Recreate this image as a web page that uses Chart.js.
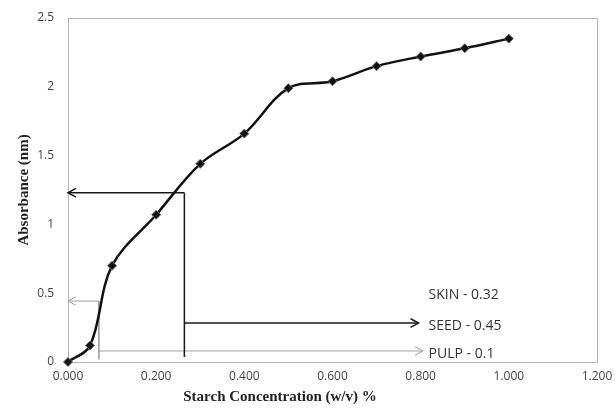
<!DOCTYPE html>
<html>
<head>
<meta charset="utf-8">
<script src="https://cdn.jsdelivr.net/npm/chart.js@4.4.1/dist/chart.umd.min.js"></script>
<style>
  html, body { margin: 0; padding: 0; background: #fff; }
</style>
</head>
<body>
<canvas id="absorbChart" width="615" height="412"></canvas>
<script>
// curva padrão do amido
const concentration = [0, 0.05, 0.1, 0.2, 0.3, 0.4, 0.5, 0.6, 0.7, 0.8, 0.9, 1.0];
const absorbance = [0, 0.12, 0.70, 1.07, 1.44, 1.66, 1.99, 2.04, 2.15, 2.22, 2.28, 2.35];

// linhas de leitura: SEED, PULP
const guideConc = [0.264, 0.07];
const guideLevel = [1.23, 0.443];
const guideBottom = [0.036, 0.02];
const pointerLevel = [0.283, 0.08];
const pointerEnd = [0.795, 0.805];
const guideColors = ['#1a1a1a', '#a0a0a0'];
const guideWidths = [1.5, 1];

// textos das amostras
const noteLabels = ['SKIN - 0.32', 'SEED - 0.45', 'PULP - 0.1'];
const noteLevels = [0.487, 0.262, 0.058];
const noteConc = 0.818;

const xTicks = [0, 0.2, 0.4, 0.6, 0.8, 1.0, 1.2];
const yTicks = [0, 0.5, 1, 1.5, 2, 2.5];

const curve = concentration.map((c, i) => ({ x: c, y: absorbance[i] }));

const guideSets = [];
guideConc.forEach((c, i) => {
    const base = {
        type: 'line',
        borderColor: guideColors[i],
        borderWidth: guideWidths[i],
        pointRadius: 0,
        tension: 0,
        fill: false,
        clip: false
    };
    // seta para o eixo y
    guideSets.push(Object.assign({}, base, {
        data: [{ x: c, y: guideLevel[i] }, { x: 0, y: guideLevel[i] }],
        arrow: true
    }));
    // linha vertical até o eixo x
    guideSets.push(Object.assign({}, base, {
        data: [{ x: c, y: guideLevel[i] }, { x: c, y: guideBottom[i] }]
    }));
    // seta para o texto
    guideSets.push(Object.assign({}, base, {
        data: [{ x: c, y: pointerLevel[i] }, { x: pointerEnd[i], y: pointerLevel[i] }],
        arrow: true
    }));
});

// pontas de seta abertas
const arrowHeads = {
    id: 'arrowHeads',
    afterDatasetsDraw(chart) {
        const ctx = chart.ctx;
        chart.data.datasets.forEach((ds, i) => {
            if (!ds.arrow) return;
            const pts = chart.getDatasetMeta(i).data;
            const tip = pts[pts.length - 1];
            const prev = pts[pts.length - 2];
            const ang = Math.atan2(tip.y - prev.y, tip.x - prev.x);
            const len = 9, spread = 0.5;
            ctx.save();
            ctx.strokeStyle = ds.borderColor;
            ctx.lineWidth = ds.borderWidth;
            ctx.beginPath();
            ctx.moveTo(tip.x - len * Math.cos(ang - spread), tip.y - len * Math.sin(ang - spread));
            ctx.lineTo(tip.x, tip.y);
            ctx.lineTo(tip.x - len * Math.cos(ang + spread), tip.y - len * Math.sin(ang + spread));
            ctx.stroke();
            ctx.restore();
        });
    }
};

// textos, moldura e títulos dos eixos
const decorations = {
    id: 'decorations',
    beforeDatasetsDraw(chart) {
        const { ctx, chartArea: a } = chart;
        ctx.save();
        ctx.strokeStyle = '#b5b5b5';
        ctx.lineWidth = 1;
        ctx.beginPath();
        ctx.moveTo(a.left, a.top + 0.5);
        ctx.lineTo(a.right + 0.5, a.top + 0.5);
        ctx.lineTo(a.right + 0.5, a.bottom);
        ctx.stroke();
        ctx.restore();
    },
    afterDraw(chart) {
        const { ctx, chartArea: a, scales } = chart;
        ctx.save();
        ctx.fillStyle = '#333';
        ctx.font = '14px "Open Sans"';
        ctx.textBaseline = 'middle';
        ctx.textAlign = 'left';
        noteLabels.forEach((t, i) => {
            ctx.fillText(t, scales.x.getPixelForValue(noteConc), scales.y.getPixelForValue(noteLevels[i]));
        });

        ctx.fillStyle = '#222';
        ctx.font = 'bold 15px "Liberation Serif"';
        ctx.textAlign = 'center';
        ctx.fillText('Starch Concentration (w/v) %', a.left + 212, a.bottom + 35);
        ctx.translate(24, a.top + 172);
        ctx.rotate(-Math.PI / 2);
        ctx.fillText('Absorbance (nm)', 0, 0);
        ctx.restore();
    }
};

const ctx = document.getElementById('absorbChart').getContext('2d');
const absorbChart = new Chart(ctx, {
    type: 'line',
    data: {
        datasets: [{
            data: curve,
            borderColor: '#111',
            borderWidth: 2.5,
            tension: 0.35,
            fill: false,
            pointStyle: 'rectRot',
            pointRadius: 4.5,
            pointBackgroundColor: '#111',
            pointBorderColor: '#666',
            pointBorderWidth: 1,
            clip: false
        }].concat(guideSets)
    },
    options: {
        responsive: false,
        animation: false,
        layout: { padding: { top: 18, right: 18, left: 0, bottom: 0 } },
        plugins: {
            legend: { display: false },
            tooltip: { enabled: false }
        },
        scales: {
            x: {
                type: 'linear',
                min: 0,
                max: 1.2,
                afterBuildTicks: (s) => { s.ticks = xTicks.map(v => ({ value: v })); },
                afterFit: (s) => { s.height = 50; s.paddingLeft = 0; s.paddingRight = 0; },
                grid: { display: false, drawTicks: false },
                border: { display: true, color: '#b5b5b5' },
                ticks: {
                    padding: 7,
                    color: '#444',
                    font: { family: 'Open Sans', size: 12 },
                    callback: (v) => v.toFixed(3)
                }
            },
            y: {
                min: 0,
                max: 2.5,
                afterBuildTicks: (s) => { s.ticks = yTicks.map(v => ({ value: v })); },
                afterFit: (s) => { s.width = 68; s.paddingTop = 0; s.paddingBottom = 0; },
                grid: { display: false, drawTicks: false },
                border: { display: true, color: '#b5b5b5', dash: [2, 2] },
                ticks: {
                    padding: 14,
                    color: '#444',
                    font: { family: 'Open Sans', size: 12 },
                    callback: (v) => String(v)
                }
            }
        }
    },
    plugins: [arrowHeads, decorations]
});
</script>
</body>
</html>
